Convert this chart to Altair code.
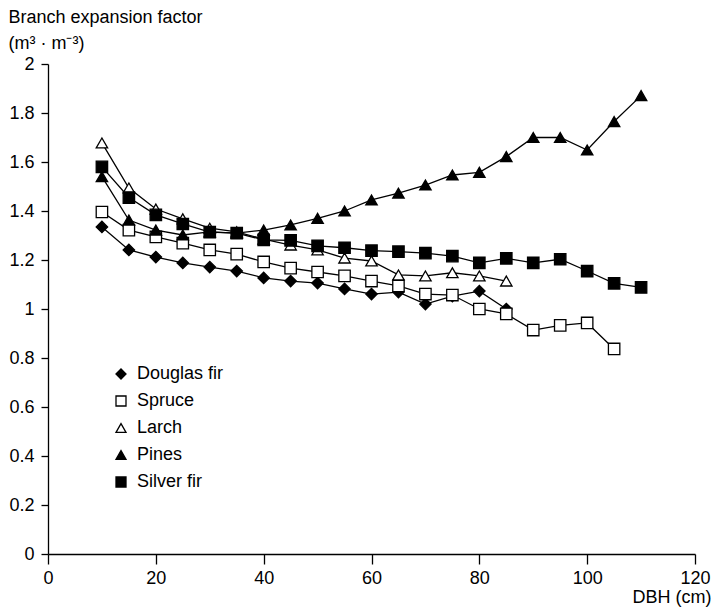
import altair as alt
import pandas as pd

species = ["Douglas fir", "Spruce", "Larch", "Pines", "Silver fir"]
shapes = ["diamond", "square", "triangle-up", "triangle-up", "square"]
fills = ["black", "white", "white", "black", "black"]

dbh_douglas = [10, 15, 20, 25, 30, 35, 40, 45, 50, 55, 60, 65, 70, 75, 80, 85]
douglas = [1.335, 1.241, 1.212, 1.188, 1.171, 1.155, 1.127, 1.114, 1.106, 1.082,
           1.061, 1.069, 1.020, 1.053, 1.073, 1.000]

dbh_spruce = [10, 15, 20, 25, 30, 35, 40, 45, 50, 55, 60, 65, 70, 75, 80, 85, 90, 95, 100, 105]
spruce = [1.396, 1.322, 1.294, 1.269, 1.241, 1.224, 1.192, 1.167, 1.151, 1.135,
          1.114, 1.094, 1.061, 1.057, 1.000, 0.980, 0.914, 0.933, 0.943, 0.837]

dbh_larch = [10, 15, 20, 25, 30, 35, 40, 45, 50, 55, 60, 65, 70, 75, 80, 85]
larch = [1.678, 1.494, 1.408, 1.368, 1.330, 1.315, 1.285, 1.261, 1.241, 1.208,
         1.196, 1.139, 1.135, 1.148, 1.135, 1.114]

dbh_pines = [10, 15, 20, 25, 30, 35, 40, 45, 50, 55, 60, 65, 70, 75, 80, 85, 90, 95, 100, 105, 110]
pines = [1.540, 1.363, 1.322, 1.302, 1.315, 1.310, 1.322, 1.343, 1.370, 1.400,
         1.445, 1.473, 1.506, 1.547, 1.558, 1.622, 1.700, 1.700, 1.649, 1.765, 1.871]

dbh_silver = [10, 15, 20, 25, 30, 35, 40, 45, 50, 55, 60, 65, 70, 75, 80, 85, 90, 95, 100, 105, 110]
silver = [1.580, 1.455, 1.384, 1.347, 1.314, 1.310, 1.282, 1.280, 1.258, 1.250,
          1.238, 1.234, 1.228, 1.216, 1.188, 1.207, 1.188, 1.203, 1.155, 1.105, 1.088]

rows = []
for name, xs, ys in [("Douglas fir", dbh_douglas, douglas),
                     ("Spruce", dbh_spruce, spruce),
                     ("Larch", dbh_larch, larch),
                     ("Pines", dbh_pines, pines),
                     ("Silver fir", dbh_silver, silver)]:
    for xv, yv in zip(xs, ys):
        rows.append({"species": name, "dbh": xv, "bef": yv})
df = pd.DataFrame(rows)

FONT = "Liberation Sans"

x_enc = alt.X(
    "dbh:Q",
    scale=alt.Scale(domain=[0, 120], nice=False, zero=False),
    axis=alt.Axis(
        values=[0, 20, 40, 60, 80, 100, 120],
        format="d",
        title="DBH (cm)",
        grid=False,
        tickSize=10,
        labelPadding=5,
        labelFlush=False,
        titleAnchor="end",
        titleAlign="right",
        titleBaseline="alphabetic",
        titleX=663,
        titleY=48,
    ),
)
y_enc = alt.Y(
    "bef:Q",
    scale=alt.Scale(domain=[0, 2], nice=False),
    axis=alt.Axis(
        values=[0, 0.2, 0.4, 0.6, 0.8, 1, 1.2, 1.4, 1.6, 1.8, 2],
        format="~g",
        title=["Branch expansion factor", "(m³ · m⁻³)"],
        grid=False,
        tickSize=7,
        labelPadding=7,
        labelFlush=False,
        titleAngle=0,
        titleAlign="left",
        titleBaseline="top",
        titleX=-40,
        titleY=-56,
        titleLineHeight=26,
    ),
)

base = alt.Chart(df)

lines = base.mark_line(color="black", strokeWidth=1.3).encode(
    x=x_enc, y=y_enc, detail="species:N", order="dbh:Q"
)

legend = alt.Legend(
    title=None,
    orient="none",
    legendX=64,
    legendY=301,
    labelFontSize=18,
    labelFont=FONT,
    labelColor="black",
    symbolSize=100,
    symbolStrokeWidth=1.3,
    rowPadding=9,
    labelOffset=7,
    padding=0,
)

points = base.mark_point(
    filled=True, strokeWidth=1.3, opacity=1, fillOpacity=1, size=130
).encode(
    x=x_enc,
    y=y_enc,
    shape=alt.Shape("species:N", scale=alt.Scale(domain=species, range=shapes), legend=legend),
    fill=alt.Fill("species:N", scale=alt.Scale(domain=species, range=fills), legend=legend),
    stroke=alt.Stroke("species:N", scale=alt.Scale(domain=species, range=["black"] * 5), legend=legend),
)

chart = (
    alt.layer(lines, points)
    .properties(
        width=647,
        height=490,
        padding={"left": 40, "top": 56, "right": 18, "bottom": 54},
        autosize=alt.AutoSizeParams(type="none"),
    )
    .configure_view(stroke=None)
    .configure_axis(
        domainColor="black",
        domainWidth=1.3,
        tickColor="black",
        tickWidth=1.3,
        labelFont=FONT,
        labelFontSize=18,
        labelColor="black",
        titleFont=FONT,
        titleFontSize=18,
        titleFontWeight="normal",
        titleColor="black",
    )
)

chart.save("out.html", embed_options={"renderer": "svg", "actions": False})
